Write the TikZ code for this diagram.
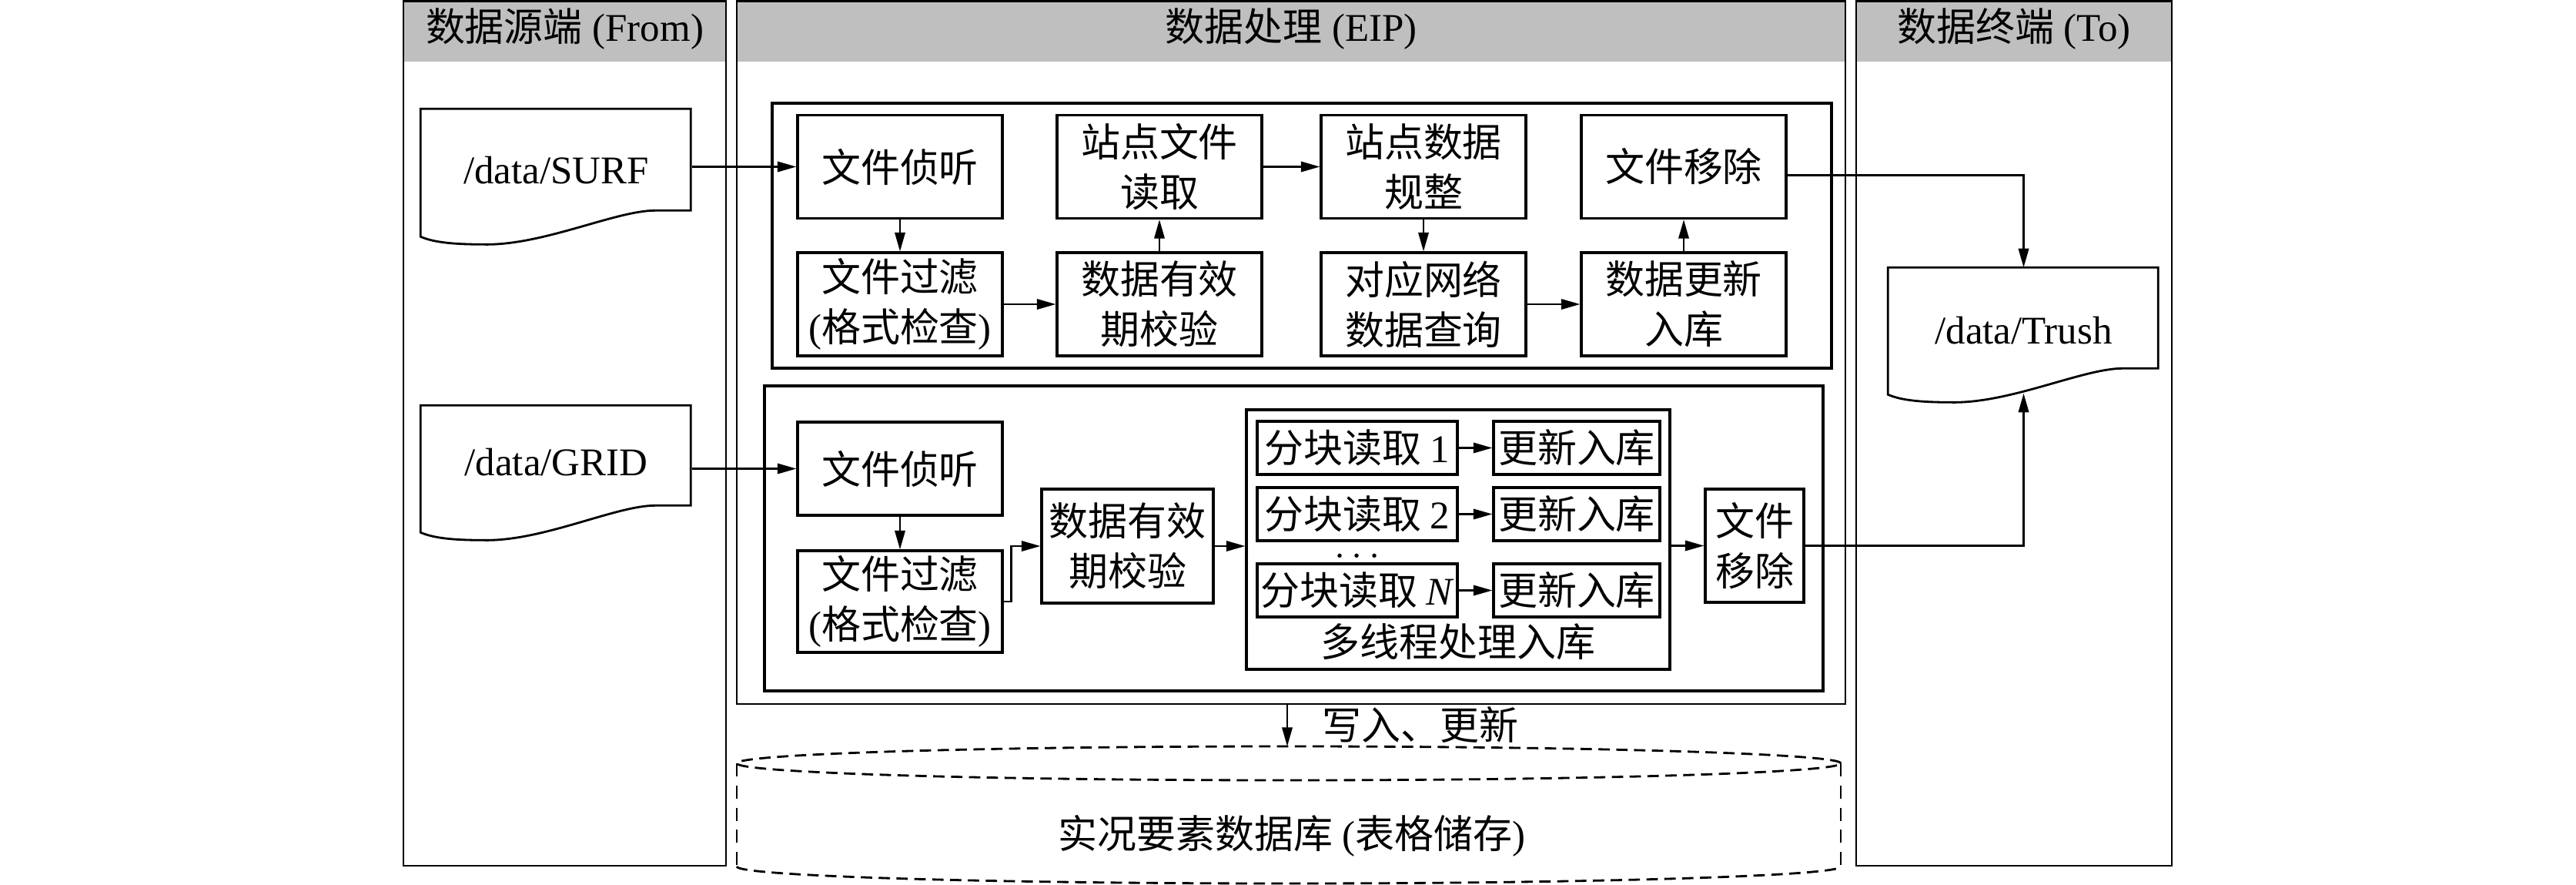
\documentclass[tikz,border=0pt]{standalone}
\usepackage{fontspec}
\setmainfont{Liberation Serif}
\newfontfamily\cjk{Noto Sans CJK SC}
\usetikzlibrary{arrows.meta,positioning,calc}
\newcommand\fs{\fontsize{14.5pt}{18.5pt}\selectfont}
\tikzstyle{lanebox}  = [line width=0.75pt]
\tikzstyle{headfill} = [fill=black!25]
\tikzstyle{grpbox}   = [line width=0.9pt]
\tikzstyle{box}      = [draw, line width=0.9pt, align=center, inner sep=0pt, font=\fs\cjk]
\tikzstyle{sbox}     = [box, minimum width=2.66cm, minimum height=1.34cm]
\tikzstyle{doc}      = [minimum width=3.51cm, inner sep=0pt, font=\fs]
\tikzstyle{docline}  = [line width=0.8pt]
\tikzstyle{arrow}    = [line width=0.7pt, -{Triangle[length=7pt,width=3.8pt]}]
\tikzstyle{dbedge}   = [line width=0.8pt, dash pattern=on 4.2pt off 2.4pt]
\tikzstyle{dbside}   = [line width=0.6pt, dash pattern=on 4.8pt off 3.4pt]

\begin{document}
\begin{tikzpicture}
	\useasboundingbox (0,0) rectangle (33.46,11.48);

	% lanes
	\fill[headfill] (5.24,10.68) rectangle (9.43,11.48);
	\fill[headfill] (9.57,10.68) rectangle (23.97,11.48);
	\fill[headfill] (24.11,10.68) rectangle (28.21,11.48);
	\draw[lanebox] (5.24,0.24) rectangle (9.43,11.465);
	\draw[lanebox] (9.57,2.34) rectangle (23.97,11.465);
	\draw[lanebox] (24.11,0.24) rectangle (28.21,11.465);

	\node[font=\fs] (hfrom) at (7.335,11.11) {{\cjk 数据源端} (From)};
	\node[font=\fs] (heip) at (16.77,11.11) {{\cjk 数据处理} (EIP)};
	\node[font=\fs] (hto) at (26.16,11.11) {{\cjk 数据终端} (To)};

	% groups
	\draw[grpbox] (10.03,6.70) rectangle (23.79,10.14);
	\draw[grpbox] (9.93,2.51) rectangle (23.68,6.47);

	% files
	\node[doc, minimum height=1.58cm] (surf) at (7.225,9.27) {/data/SURF};
	\draw[docline, shift={(surf.north west)}] (0,0) -- (3.51,0) -- (3.51,-1.32) -- (3.05,-1.32)
		.. controls (2.53,-1.32) and (1.58,-1.78) .. (0.81,-1.76)
		.. controls (0.35,-1.76) and (0.14,-1.72) .. (0,-1.66) -- cycle;
	\node[doc, minimum height=1.46cm] (grid) at (7.225,5.48) {/data/GRID};
	\draw[docline, shift={(grid.north west)}] (0,0) -- (3.51,0) -- (3.51,-1.30) -- (3.05,-1.30)
		.. controls (2.53,-1.30) and (1.58,-1.77) .. (0.81,-1.75)
		.. controls (0.35,-1.75) and (0.14,-1.71) .. (0,-1.65) -- cycle;
	\node[doc, minimum height=1.62cm] (trush) at (26.285,7.19) {/data/Trush};
	\draw[docline, shift={(trush.north west)}] (0,0) -- (3.51,0) -- (3.51,-1.31) -- (3.05,-1.31)
		.. controls (2.53,-1.31) and (1.58,-1.77) .. (0.81,-1.75)
		.. controls (0.35,-1.75) and (0.14,-1.71) .. (0,-1.65) -- cycle;

	% SURF
	\node[sbox] (a1) at (11.69,9.315) {文件侦听};
	\node[sbox] (a2) at (11.69,7.53) {文件过滤\\{\rmfamily(}格式检查{\rmfamily)}};
	\node[sbox] (a3) at (15.06,9.315) {站点文件\\读取};
	\node[sbox] (a4) at (15.06,7.53) {数据有效\\期校验};
	\node[sbox] (a5) at (18.49,9.315) {站点数据\\规整};
	\node[sbox] (a6) at (18.49,7.53) {对应网络\\数据查询};
	\node[sbox] (a7) at (21.87,9.315) {文件移除};
	\node[sbox] (a8) at (21.87,7.53) {数据更新\\入库};

	\draw[arrow] (surf.east |- a1.west) -- (a1.west);
	\draw[arrow] (a1.south) -- (a2.north);
	\draw[arrow] (a2.east) -- (a4.west);
	\draw[arrow] (a4.north) -- (a3.south);
	\draw[arrow] (a3.east) -- (a5.west);
	\draw[arrow] (a5.south) -- (a6.north);
	\draw[arrow] (a6.east) -- (a8.west);
	\draw[arrow] (a8.north) -- (a7.south);
	\draw[arrow] ([yshift=-0.11cm]a7.east) -| (trush.north);

	% GRID
	\node[box, minimum width=2.66cm, minimum height=1.21cm] (b1) at (11.69,5.395) {文件侦听};
	\node[box, minimum width=2.66cm, minimum height=1.32cm] (b2) at (11.69,3.67) {文件过滤\\{\rmfamily(}格式检查{\rmfamily)}};
	\node[box, minimum width=2.23cm, minimum height=1.48cm] (b3) at (14.645,4.39) {数据有效\\期校验};
	\node[box, minimum width=5.50cm, minimum height=3.37cm] (mt) at (18.94,4.475) {};
	\node[box, minimum width=1.28cm, minimum height=1.47cm] (b4) at (22.79,4.395) {文件\\移除};

	\foreach \i/\y/\t in {1/5.665/1, 2/4.805/2, n/3.815/\textit{N}} {
		\node[box, minimum width=2.60cm, minimum height=0.69cm] (read\i) at (17.63,\y) {分块读取 {\rmfamily\t}};
		\node[box, minimum width=2.16cm, minimum height=0.69cm] (store\i) at (20.48,\y) {更新入库};
		\draw[arrow] (read\i.east) -- (store\i.west);
	}
	\node[font=\fs, inner sep=0pt] (dots) at (17.63,4.25) {$\cdots$};
	\node[font=\fs\cjk] (mtlabel) at (18.94,3.15) {多线程处理入库};

	\draw[arrow] (grid.east |- b1.west) -- (b1.west);
	\draw[arrow] (b1.south) -- (b2.north);
	\draw[arrow] (b2.east) -- ++(0.1,0) |- (b3.west);
	\draw[arrow] (b3.east) -- (b3.east -| mt.west);
	\draw[arrow] (mt.east |- b4.west) -- (b4.west);
	\draw[arrow] (b4.east) -| (trush.south);

	% database
	\draw[dbedge] (16.74,1.57) ellipse (7.17 and 0.22);
	\draw[dbside] (9.57,1.57) -- (9.57,0.23);
	\draw[dbside] (23.91,1.57) -- (23.91,0.23);
	\draw[dbedge] (9.57,0.23) arc (180:360:7.17 and 0.22);
	\node[font=\fs] (db) at (16.78,0.63) {{\cjk 实况要素数据库} ({\cjk 表格储存})};

	\coordinate (eipout) at (16.72,2.34);
	\coordinate (dbtop) at (16.72,1.79);
	\draw[arrow] (eipout) -- (dbtop) node[midway, right=0.44cm, inner sep=0pt, font=\fs\cjk] (wlabel) {写入、更新};
\end{tikzpicture}
\end{document}
